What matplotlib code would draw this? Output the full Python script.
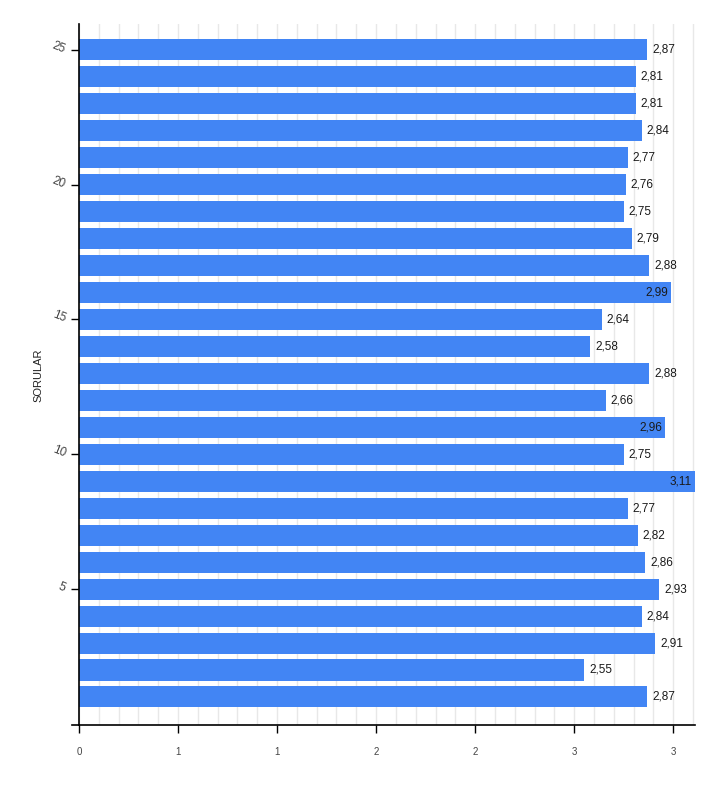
import numpy as np
import matplotlib.pyplot as plt
from matplotlib.ticker import MultipleLocator, FixedLocator

plt.rcParams['font.family'] = ['Liberation Sans', 'DejaVu Sans']

# question numbers (bottom to top) and mean scores
questions = list(range(1, 26))
scores = [2.87, 2.55, 2.91, 2.84, 2.93, 2.86, 2.82, 2.77, 3.11, 2.75,
          2.96, 2.66, 2.88, 2.58, 2.64, 2.99, 2.88, 2.79, 2.75, 2.76,
          2.77, 2.84, 2.81, 2.81, 2.87]
y_ticks = [5, 10, 15, 20, 25]
x_ticks = [0, 0.5, 1.0, 1.5, 2.0, 2.5, 3.0]
x_tick_labels = ['0', '1', '1', '2', '2', '3', '3']

bar_color = '#4285f4'
xmax = 3.11

fig = plt.figure(figsize=(7.17, 7.88), dpi=100)
ax = fig.add_axes([79 / 717, 1 - 725 / 788, (695 - 79) / 717, (725 - 24) / 788])

ax.barh(questions, scores, height=0.78, color=bar_color, zorder=2)

# value labels, moved inside the bar when they would not fit
for q, s in zip(questions, scores):
    txt = f"{s:.2f}".replace('.', ',')
    if s > 2.94:
        ax.text(s - 0.015, q, txt, ha='right', va='center', fontsize=8.5,
                color='#1a1a1a', zorder=3)
    else:
        ax.text(s + 0.025, q, txt, ha='left', va='center', fontsize=8.5,
                color='#1a1a1a', zorder=3)

ax.set_xlim(0, xmax)
ax.set_ylim(-0.04, 25.96)

ax.xaxis.set_major_locator(FixedLocator(x_ticks))
ax.set_xticklabels(x_tick_labels, fontsize=7, color='#444444')
ax.xaxis.set_minor_locator(MultipleLocator(0.1))
ax.set_yticks(y_ticks)
ax.set_yticklabels([str(v) for v in y_ticks], fontsize=8.5, color='#444444',
                   rotation=-22, rotation_mode='anchor', ha='right',
                   va='center')

ax.tick_params(axis='x', which='major', length=6, width=1, pad=10)
ax.tick_params(axis='x', which='minor', length=0)
ax.tick_params(axis='y', length=6, width=1, pad=4)

ax.grid(True, axis='x', which='both', color='#e8e8e8', linewidth=1, zorder=0)
ax.set_axisbelow(True)

for side in ['top', 'right']:
    ax.spines[side].set_visible(False)
ax.spines['left'].set_linewidth(1.2)
ax.spines['bottom'].set_linewidth(1.2)
# bottom axis line runs a little past the left axis
ax.plot([-0.035, 0], [-0.04, -0.04], color='black', linewidth=1.2,
        clip_on=False, zorder=4)

fig.text(38 / 717, 1 - 375 / 788, 'SORULAR', rotation=90, fontsize=8,
         color='#222222', ha='center', va='center')

plt.savefig('out.png', dpi=100)
